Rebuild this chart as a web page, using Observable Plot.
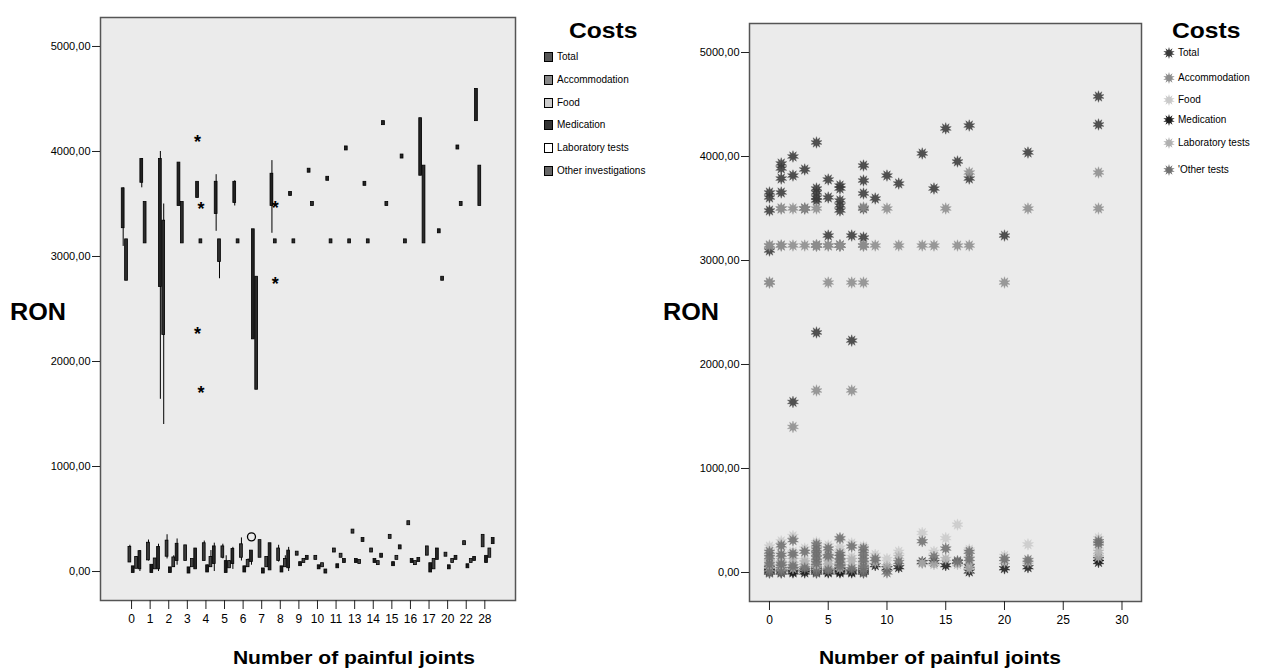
<!DOCTYPE html>
<html><head><meta charset="utf-8">
<script src="https://cdn.jsdelivr.net/npm/d3@7"></script>
<script src="https://cdn.jsdelivr.net/npm/@observablehq/plot@0.6"></script>
<style>
body{margin:0;background:#fff;font-family:"Liberation Sans",Arial,sans-serif;}
#wrap{position:relative;width:1261px;height:669px;overflow:hidden;background:#fff;}
.abs{position:absolute;white-space:nowrap;line-height:1;color:#000;}
.ron{font-size:24px;font-weight:bold;transform-origin:0 0;transform:scaleX(1.05);}
.xt{font-size:18px;font-weight:bold;transform:translateX(-50%) scaleX(1.17);}
.costs{font-size:22px;font-weight:bold;transform-origin:0 0;transform:scaleX(1.12);}
.leg{font-size:10px;display:flex;align-items:center;height:12px;}
.sw{width:7px;height:8px;border:1px solid #000;margin-right:4px;}
</style></head>
<body><div id="wrap"></div>
<script>
// ---- data ----
const joints = [0,1,2,3,4,5,6,7,8,9,10,11,13,14,15,16,17,20,22,28];
const boxNames = ["Total","Accommodation","Food","Medication","Laboratory tests","Other investigations"];
const dotNames = ["Total","Accommodation","Food","Medication","Laboratory tests","'Other tests"];
// values per patient, one inner array per joint category (same order as joints)
const total = [[3654,3606,3481,3096],[3933,3885,3788,3654],[4000,3817,1640],[3875,3500],[4135,3692,3654,3606,3577,2308],[3779,3606,3240],[3721,3692,3577,3529,3481],[3240,2230],[3913,3769,3644,3500,3221],[3596],[3817],[3740],[4029],[3692],[4270],[3952],[4298,3788],[3240],[4038],[4577,4308]];
const accommodation = [[3144,3144,2788,2788],[3500,3500,3144,3144],[3500,3144,1400],[3500,3144],[3500,3144,3144,3144,3144,1750],[3144,3144,2788],[3144,3144,3144,3144,3144],[2788,1750],[3510,3144,3144,3144,2788],[3144],[3500],[3144],[3144],[3144],[3500],[3144],[3846,3144],[2788],[3500],[3846,3500]];
const food = [[250,180,120,90],[300,210,150,100],[350,200,120],[230,120],[290,250,200,150,120,100],[260,180,120],[320,240,200,150,100],[280,150],[250,200,160,120,90],[170],[130],[200],[380],[200],[330],[460],[220,170],[160],[270],[330,250]];
const medication = [[0,20,40,10],[0,30,10,60],[0,30,10],[0,20],[0,20,10,40,30,60],[0,150,10],[0,10,30,20,50],[0,10],[0,20,40,10,30],[70],[40],[50],[100],[100],[70],[100],[10,60],[40],[50],[100,130]];
const labTests = [[60,100,30,140],[90,50,120,30],[80,150,40],[60,100],[100,80,200,60,40,120],[60,100,40],[90,60,120,40,70],[60,120],[150,60,100,80,40],[100],[60],[150],[90],[80],[130],[80],[100,40],[100],[100],[200,150]];
const otherTests = [[200,150,0,80],[260,170,80,0],[310,180,60],[200,40],[270,220,180,140,90,0],[230,160,20],[330,180,150,110,60],[250,30],[230,180,120,50,0],[130],[0],[100],[300],[150],[230],[110],[200,130],[130],[120],[300,280]];
const yTicks = [0,1000,2000,3000,4000,5000];
const xTicksRight = [0,5,10,15,20,25,30];

// ---- styling ----
const series = [total, accommodation, food, medication, labTests, otherTests];
const legendFill = ["#555","#888","#ccc","#333","#fff","#666"];
const boxFill = ["#222","#2c2c2c","#3a3a3a","#1a1a1a","#444","#262626"];
const dotFill = ["#3a3a3a","#8c8c8c","#c9c9c9","#1c1c1c","#b0b0b0","#707070"];
const offsets = [-0.45,-0.27,-0.09,0.09,0.27,0.45];
const fmt = v => d3.format(".2f")(v).replace(".", ",");

const rows = [];
series.forEach((arr, s) => arr.forEach((vals, i) => vals.forEach(v => rows.push({s, i, j: joints[i], v}))));

// Tukey hinges box statistics
const stats = [], outl = [];
series.forEach((arr, s) => arr.forEach((vals, i) => {
  const a = vals.slice().sort((p,q)=>p-q), n = a.length, h = Math.ceil(n/2);
  const q1 = d3.median(a.slice(0,h)), med = d3.median(a), q3 = d3.median(a.slice(n-h));
  const iqr = q3 - q1;
  const inner = a.filter(v => v >= q1 - 1.5*iqr && v <= q3 + 1.5*iqr);
  const xc = i + offsets[s];
  stats.push({s, xc, q1, med, q3, lo: d3.min(inner), hi: d3.max(inner)});
  a.forEach(v => {
    if (v < q1 - 1.5*iqr || v > q3 + 1.5*iqr) {
      const ext = v < q1 - 3*iqr || v > q3 + 3*iqr;
      outl.push({xc, v, ext});
    }
  });
}));

const wrap = document.getElementById("wrap");
function place(el, left, top){ el.style.position="absolute"; el.style.left=left+"px"; el.style.top=top+"px"; wrap.appendChild(el); }

// ---- left: clustered boxplots ----
const left = Plot.plot({
  width: 530, height: 640, marginLeft: 100, marginRight: 15, marginTop: 17, marginBottom: 40,
  x: {domain: [-1.67, 20.65]},
  y: {domain: [-276, 5276]},
  style: {fontFamily: "Liberation Sans, Arial, sans-serif", color: "#000", background: "transparent"},
  marks: [
    Plot.frame({fill: "#ebebeb", stroke: "#555", strokeWidth: 1.5}),
    Plot.axisY({ticks: yTicks, tickFormat: fmt, tickSize: 8, tickPadding: 2, fontSize: 11, label: null, stroke: "#222"}),
    Plot.axisX({ticks: d3.range(joints.length), tickFormat: i => joints[i], tickSize: 9, tickPadding: 5, fontSize: 12, label: null, stroke: "#222"}),
    Plot.ruleX(stats, {x: "xc", y1: "lo", y2: "hi", stroke: "#000", strokeWidth: 1}),
    Plot.rect(stats, {x1: d => d.xc - 0.075, x2: d => d.xc + 0.075, y1: "q1", y2: "q3", fill: d => boxFill[d.s], stroke: "#000", strokeWidth: 0.8, insetTop: -2, insetBottom: -2}),
    Plot.text(outl.filter(d => d.ext), {x: "xc", y: "v", text: () => "*", fontSize: 18, fontWeight: "bold", dy: 5, fill: "#000"}),
    Plot.dot(outl.filter(d => !d.ext), {x: "xc", y: "v", r: 4, stroke: "#000", strokeWidth: 1.3, fill: "none"})
  ]
});
place(left, 0, 0);

// ---- right: scatter with star symbols ----
const star = {draw(ctx, size){
  const R = Math.sqrt(size / Math.PI), k = 10;
  for (let t = 0; t < 2*k; ++t) {
    const a = t * Math.PI / k - Math.PI/2, r = t % 2 ? R*0.5 : R;
    const x = r*Math.cos(a), y = r*Math.sin(a);
    t ? ctx.lineTo(x, y) : ctx.moveTo(x, y);
  }
  ctx.closePath();
}};
const drawOrder = [3,0,1,2,4,5];
const right = Plot.plot({
  width: 492, height: 641, marginLeft: 90, marginRight: 10, marginTop: 23, marginBottom: 40,
  x: {domain: [-1.70, 31.66]},
  y: {domain: [-279, 5279]},
  style: {fontFamily: "Liberation Sans, Arial, sans-serif", color: "#000", background: "transparent"},
  marks: [
    Plot.frame({fill: "#ebebeb", stroke: "#555", strokeWidth: 1.5}),
    Plot.axisY({ticks: yTicks, tickFormat: fmt, tickSize: 8, tickPadding: 2, fontSize: 11, label: null, stroke: "#222"}),
    Plot.axisX({ticks: xTicksRight, tickSize: 9, tickPadding: 5, fontSize: 12, label: null, stroke: "#222"}),
    ...drawOrder.map(s => Plot.dot(rows.filter(d => d.s === s), {x: "j", y: "v", symbol: star, r: 5.8, fill: dotFill[s], fillOpacity: 0.88, stroke: dotFill[s], strokeWidth: 0.6, strokeOpacity: 0.6}))
  ]
});
place(right, 659, 0);

// ---- titles & legends ----
function txt(cls, html, l, t){ const d = document.createElement("div"); d.className = "abs " + cls; d.innerHTML = html; place(d, l, t); return d; }
txt("ron", "RON", 10, 300);
txt("ron", "RON", 663, 300);
txt("xt", "Number of painful joints", 354, 649);
txt("xt", "Number of painful joints", 940, 649);
txt("costs", "Costs", 569, 20);
txt("costs", "Costs", 1172, 20);

boxNames.forEach((n, k) => {
  const d = document.createElement("div"); d.className = "abs leg";
  d.innerHTML = `<span class="sw" style="background:${legendFill[k]}"></span><span>${n}</span>`;
  place(d, 544, 51 + k*22.8);
});
dotNames.forEach((n, k) => {
  const d = document.createElement("div"); d.className = "abs leg";
  d.innerHTML = `<svg width="12" height="12" style="margin-right:3px"><path transform="translate(6,6)" d="${d3.symbol(star, 36*Math.PI)()}" fill="${dotFill[k]}"/></svg><span>${n}</span>`;
  place(d, 1163, [47,72,94,114,137,164][k]);
});
</script>
</body></html>
